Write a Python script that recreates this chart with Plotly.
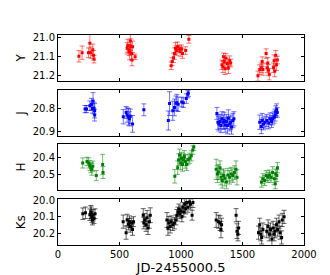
import plotly.graph_objects as go

# ---- data (days = JD-2455000.5, magnitudes) ----
y_days = [170, 196, 248, 259, 267, 283, 289, 293,
          562, 567, 579, 581, 588, 593, 598, 601, 606, 627,
          920, 928, 939, 947, 955, 964, 972, 985, 993, 1004, 1012, 1038, 1064,
          1333, 1341, 1346, 1351, 1359, 1364, 1377, 1385, 1396, 1404,
          1626, 1640, 1653, 1660, 1666, 1692, 1700, 1705, 1710, 1718, 1752, 1757, 1762, 1770, 1776, 1783]
y_mag = [21.097, 21.078, 21.078, 21.028, 21.078, 21.063, 21.092, 21.112,
         21.055, 21.042, 21.063, 21.075, 21.017, 21.045, 21.083, 21.117, 21.047, 21.100,
         21.147, 21.125, 21.105, 21.083, 21.055, 21.067, 21.047, 21.058, 21.072, 21.058, 21.083, 21.067, 21.008,
         21.142, 21.153, 21.100, 21.125, 21.163, 21.108, 21.137, 21.158, 21.120, 21.133,
         21.200, 21.167, 21.158, 21.125, 21.167, 21.083, 21.158, 21.133, 21.170, 21.192, 21.158, 21.120, 21.175, 21.092, 21.142, 21.117]
y_err = [0.030, 0.035, 0.025, 0.045, 0.030, 0.030, 0.025, 0.020,
         0.030, 0.035, 0.030, 0.040, 0.050, 0.040, 0.035, 0.030, 0.030, 0.015,
         0.020, 0.020, 0.025, 0.030, 0.030, 0.025, 0.025, 0.020, 0.025, 0.020, 0.025, 0.020, 0.020,
         0.025, 0.030, 0.020, 0.030, 0.030, 0.025, 0.030, 0.030, 0.025, 0.020,
         0.025, 0.025, 0.025, 0.025, 0.030, 0.025, 0.025, 0.030, 0.030, 0.030, 0.025, 0.030, 0.030, 0.025, 0.030, 0.020]

j_days = [220, 232, 259, 272, 280, 285, 293, 298, 298,
          531, 554, 562, 573, 581, 588, 606, 698,
          897, 907, 933, 947, 959, 967, 977, 1006, 1019, 1043, 1056, 1059,
          1292, 1300, 1307, 1318, 1325, 1333, 1344, 1351, 1359, 1369, 1377, 1385, 1396, 1404, 1411, 1422, 1430,
          1640, 1653, 1660, 1671, 1684, 1697, 1713, 1723, 1736, 1744, 1757, 1765, 1770, 1778, 1783]
j_mag = [20.804, 20.804, 20.790, 20.784, 20.801, 20.770, 20.800, 20.811, 20.829,
         20.836, 20.818, 20.829, 20.836, 20.845, 20.834, 20.866, 20.807,
         20.852, 20.781, 20.811, 20.797, 20.779, 20.777, 20.784, 20.774, 20.777, 20.760, 20.742, 20.736,
         20.822, 20.859, 20.866, 20.856, 20.873, 20.845, 20.859, 20.852, 20.871, 20.856, 20.873, 20.842, 20.866, 20.859, 20.879, 20.852, 20.845,
         20.859, 20.877, 20.852, 20.866, 20.859, 20.852, 20.862, 20.845, 20.856, 20.845, 20.838, 20.829, 20.815, 20.807, 20.818]
j_err = [0.015, 0.015, 0.020, 0.025, 0.020, 0.035, 0.025, 0.030, 0.025,
         0.030, 0.025, 0.030, 0.035, 0.030, 0.030, 0.035, 0.025,
         0.040, 0.050, 0.040, 0.035, 0.030, 0.035, 0.030, 0.020, 0.020, 0.020, 0.015, 0.015,
         0.025, 0.030, 0.030, 0.030, 0.030, 0.030, 0.030, 0.035, 0.030, 0.030, 0.035, 0.035, 0.030, 0.030, 0.030, 0.030, 0.030,
         0.030, 0.030, 0.030, 0.025, 0.025, 0.025, 0.025, 0.025, 0.025, 0.025, 0.025, 0.025, 0.025, 0.025, 0.020]

h_days = [201, 236, 249, 259, 267, 275, 283, 311, 363, 366,
          950, 973, 981, 989, 997, 1004, 1012, 1020, 1027, 1035, 1046, 1058, 1071, 1084, 1096, 1104,
          1286, 1296, 1304, 1317, 1325, 1335, 1346, 1356, 1369, 1382, 1395, 1408, 1421, 1434, 1447, 1455,
          1654, 1667, 1680, 1693, 1706, 1719, 1732, 1745, 1758, 1766, 1771, 1779, 1784]
h_mag = [20.434, 20.425, 20.434, 20.449, 20.462, 20.472, 20.453, 20.509, 20.443, 20.491,
         20.513, 20.462, 20.415, 20.387, 20.434, 20.406, 20.443, 20.415, 20.396, 20.425, 20.443, 20.415, 20.406, 20.392, 20.358, 20.340,
         20.472, 20.500, 20.487, 20.462, 20.519, 20.538, 20.509, 20.525, 20.547, 20.506, 20.519, 20.500, 20.509, 20.491, 20.472, 20.519,
         20.547, 20.528, 20.538, 20.509, 20.519, 20.506, 20.519, 20.491, 20.528, 20.557, 20.500, 20.509, 20.462]
h_err = [0.030, 0.025, 0.030, 0.030, 0.030, 0.035, 0.030, 0.030, 0.060, 0.035,
         0.040, 0.040, 0.035, 0.035, 0.040, 0.035, 0.040, 0.035, 0.035, 0.040, 0.035, 0.030, 0.030, 0.030, 0.025, 0.020,
         0.060, 0.050, 0.045, 0.040, 0.045, 0.045, 0.040, 0.045, 0.040, 0.040, 0.040, 0.040, 0.040, 0.040, 0.050, 0.045,
         0.030, 0.030, 0.030, 0.030, 0.030, 0.030, 0.030, 0.035, 0.035, 0.030, 0.030, 0.035, 0.030]

k_days = [202, 223, 259, 267, 270, 275, 280, 285, 293, 301,
          530, 554, 562, 573, 581, 588, 598, 606, 614,
          693, 698, 706, 716, 724, 732, 742, 750,
          886, 894, 901, 912, 920, 933, 946, 959, 967, 975, 983, 991, 999, 1007, 1015, 1023, 1030, 1038, 1046, 1056, 1069, 1077, 1090, 1097,
          1286, 1304, 1317, 1325, 1330,
          1448, 1455, 1463, 1468,
          1630, 1640, 1648, 1656, 1666, 1697, 1708, 1718, 1728, 1739, 1749, 1757, 1765, 1776, 1786, 1797, 1805, 1818, 1823, 1838]
k_mag = [20.081, 20.075, 20.087, 20.071, 20.075, 20.100, 20.119, 20.090, 20.110, 20.081,
         20.129, 20.196, 20.119, 20.144, 20.129, 20.158, 20.138, 20.177, 20.129,
         20.090, 20.138, 20.119, 20.148, 20.106, 20.167, 20.129, 20.090,
         20.119, 20.167, 20.138, 20.158, 20.129, 20.148, 20.138, 20.119, 20.090, 20.071, 20.052, 20.081, 20.063, 20.100, 20.042, 20.071, 20.023, 20.052, 20.013, 20.042, 20.010, 20.023, 20.090, 20.013,
         20.119, 20.129, 20.138, 20.177, 20.148,
         20.090, 20.187, 20.206, 20.167,
         20.196, 20.148, 20.206, 20.225, 20.177, 20.187, 20.158, 20.206, 20.177, 20.235, 20.167, 20.206, 20.187, 20.148, 20.177, 20.129, 20.196, 20.225, 20.119, 20.100]
k_err = [0.035, 0.035, 0.035, 0.040, 0.035, 0.035, 0.030, 0.035, 0.030, 0.030,
         0.040, 0.040, 0.035, 0.035, 0.035, 0.035, 0.030, 0.035, 0.030,
         0.040, 0.035, 0.040, 0.040, 0.045, 0.040, 0.040, 0.045,
         0.045, 0.045, 0.040, 0.040, 0.035, 0.035, 0.035, 0.030, 0.035, 0.030, 0.030, 0.030, 0.030, 0.030, 0.030, 0.030, 0.030, 0.030, 0.030, 0.030, 0.030, 0.030, 0.030, 0.030,
         0.045, 0.040, 0.045, 0.050, 0.040,
         0.040, 0.045, 0.040, 0.040,
         0.040, 0.040, 0.040, 0.040, 0.040, 0.040, 0.040, 0.040, 0.040, 0.045, 0.040, 0.040, 0.040, 0.040, 0.040, 0.040, 0.040, 0.040, 0.040, 0.040]

bands = ["Y", "J", "H", "Ks"]
colors = ["#ff0000", "#0000ff", "#008000", "#000000"]
err_colors = ["rgba(255,0,0,0.55)", "rgba(0,0,255,0.55)", "rgba(0,128,0,0.55)", "rgba(0,0,0,0.6)"]
y_ranges = [[21.225, 20.985], [20.916, 20.724], [20.594, 20.323], [20.271, 19.994]]
y_ticks = [[21.0, 21.1, 21.2], [20.8, 20.9], [20.4, 20.5], [20.0, 20.1, 20.2]]
domains = [[0.783, 1.0], [0.520, 0.738], [0.262, 0.480], [0.0, 0.217]]
x_ticks = [0, 500, 1000, 1500, 2000]

series = [(y_days, y_mag, y_err), (j_days, j_mag, j_err), (h_days, h_mag, h_err), (k_days, k_mag, k_err)]

fig = go.Figure()
font = dict(family="DejaVu Sans", size=10, color="black")
for i, (d, m, e) in enumerate(series):
    n = "" if i == 0 else str(i + 1)
    fig.add_trace(go.Scatter(
        x=d, y=m, mode="markers", xaxis="x" + n, yaxis="y" + n,
        marker=dict(color=colors[i], size=3, symbol="square"),
        error_y=dict(type="data", array=e, visible=True, color=err_colors[i], thickness=1, width=2.5),
        showlegend=False, hoverinfo="skip"))
    axcommon = dict(showline=True, linecolor="black", linewidth=1, mirror="ticks",
                    ticks="inside", ticklen=3, tickcolor="black", showgrid=False, zeroline=False,
                    tickfont=font)
    fig.layout["xaxis" + n] = dict(axcommon, domain=[0, 1], range=[0, 2000], tickvals=x_ticks,
                                   anchor="y" + n, showticklabels=(i == 3),
                                   title=dict(text="JD-2455000.5", font=dict(family="DejaVu Sans", size=13, color="black"), standoff=2) if i == 3 else None)
    fig.layout["yaxis" + n] = dict(axcommon, domain=domains[i], range=y_ranges[i], tickvals=y_ticks[i],
                                   ticktext=["%.1f" % v for v in y_ticks[i]], anchor="x" + n,
                                   title=dict(text=bands[i], font=dict(family="DejaVu Sans", size=12, color="black"), standoff=4))

fig.update_layout(width=330, height=275, margin=dict(l=41, r=34, t=27, b=27),
                  paper_bgcolor="white", plot_bgcolor="white")
fig.write_html("out.html")
